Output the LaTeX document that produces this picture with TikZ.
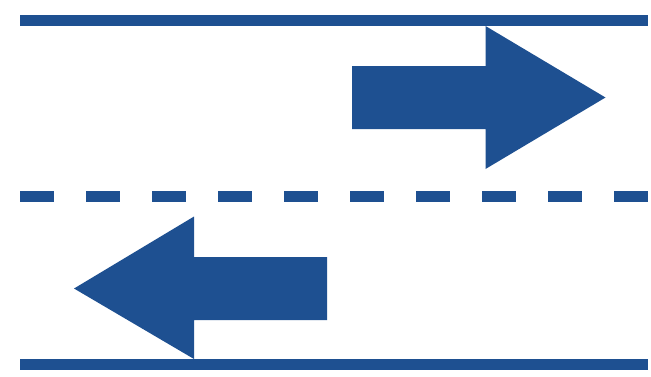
\documentclass[tikz,border=0pt]{standalone}
\definecolor{laneblue}{RGB}{30,80,145}
\begin{document}
\begin{tikzpicture}[x=1pt,y=-1pt,
  lane/.style={draw=laneblue,line width=11pt,line cap=butt},
  dashlane/.style={lane,dash pattern=on 34pt off 32pt},
  bigarrow/.style={fill=laneblue,draw=none}]
\useasboundingbox (0,0) rectangle (651,376);
% lane lines
\draw[lane] (20,20.5) -- (648,20.5);
\draw[dashlane] (20,196.5) -- (648,196.5);
\draw[lane] (20,364.5) -- (648,364.5);
% right arrow
\fill[bigarrow] (352,66) -- (485.5,66) -- (485.5,26) -- (605.5,97.5) -- (485.5,169) -- (485.5,129) -- (352,129) -- cycle;
% left arrow
\fill[bigarrow] (327,257) -- (194,257) -- (194,216.5) -- (74,288.5) -- (194,359) -- (194,320) -- (327,320) -- cycle;
\end{tikzpicture}
\end{document}
